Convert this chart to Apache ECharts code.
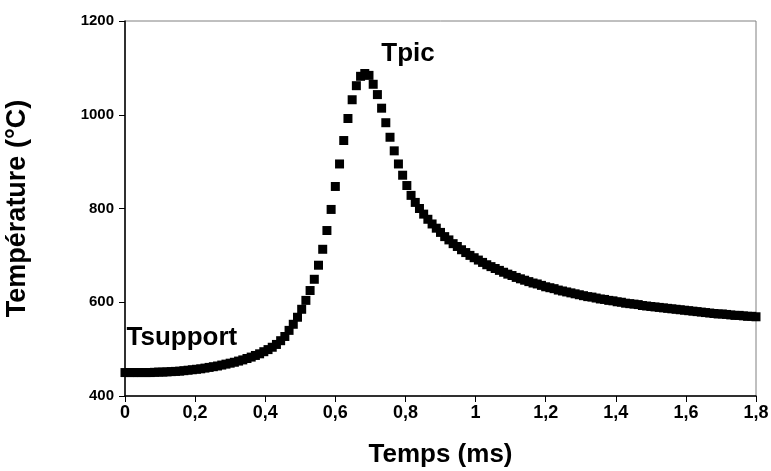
<!DOCTYPE html>
<html>
<head>
<meta charset="utf-8">
<script src="https://cdn.jsdelivr.net/npm/echarts@6/dist/echarts.min.js"></script>
<style>
html,body{margin:0;padding:0;background:#fff;}
#chart{width:771px;height:471px;}
</style>
</head>
<body>
<div id="chart"></div>
<script>
const times = [0,0.012,0.024,0.036,0.048,0.06,0.072,0.084,0.096,0.108,
0.12,0.132,0.144,0.156,0.168,0.18,0.192,0.204,0.216,0.228,
0.24,0.252,0.264,0.276,0.288,0.3,0.312,0.324,0.336,0.348,
0.36,0.372,0.384,0.396,0.408,0.42,0.432,0.444,0.456,0.468,
0.48,0.492,0.504,0.516,0.528,0.54,0.552,0.564,0.576,0.588,
0.6,0.612,0.624,0.636,0.648,0.66,0.672,0.684,0.696,0.708,
0.72,0.732,0.744,0.756,0.768,0.78,0.792,0.804,0.816,0.828,
0.84,0.852,0.864,0.876,0.888,0.9,0.912,0.924,0.936,0.948,
0.96,0.972,0.984,0.996,1.008,1.02,1.032,1.044,1.056,1.068,
1.08,1.092,1.104,1.116,1.128,1.14,1.152,1.164,1.176,1.188,
1.2,1.212,1.224,1.236,1.248,1.26,1.272,1.284,1.296,1.308,
1.32,1.332,1.344,1.356,1.368,1.38,1.392,1.404,1.416,1.428,
1.44,1.452,1.464,1.476,1.488,1.5,1.512,1.524,1.536,1.548,
1.56,1.572,1.584,1.596,1.608,1.62,1.632,1.644,1.656,1.668,
1.68,1.692,1.704,1.716,1.728,1.74,1.752,1.764,1.776,1.788,
1.8];
const temperatures = [450,450,450,450,450,450,450,450.5,451,451,
451.5,452,452.5,453,454,455,456,457,458,459.5,
461,462.5,464,466,468,470,472,474.5,477,480,
483,486.5,490,494.5,499,504,510,518,527,540,
553,568,585,604,625,649,679,713,753,798,
847,895,945,992,1032,1062,1082,1088,1084,1065,
1043,1014,983,952,923,895,871,849,828,813,
800,788,777,767,758,749,740,733,725,719,
712,706,700,695,690,685,680,676,672,668,
664,660,657,653,650,647,644,641,639,636,
633,631,629,626,624,622,620,618,616,614,
612,611,609,607,606,604,603,601,600,598,
597,596,595,593,592,591,590,589,588,587,
586,585,584,583,582,581,580,579,578,577,
576,575,575,574,573,572,572,571,570,570,569];
const xTitle = 'Temps (ms)';
const yTitle = 'Température (°C)';
const annotations = [
  {text: 'Tsupport', at: [0, 450]},
  {text: 'Tpic', at: [0.684, 1088]}
];

const FONT = 'Arial, "Liberation Sans", sans-serif';
const chart = echarts.init(document.getElementById('chart'), null, {renderer: 'canvas'});
const points = times.map((t, i) => [t, temperatures[i]]);
const fmtX = v => String(Math.round(v * 10) / 10).replace('.', ',');
const fmtY = v => String(Math.round(v));

chart.setOption({
  animation: false,
  backgroundColor: '#ffffff',
  grid: {left: 125, right: 15, top: 21, bottom: 75, containLabel: false, outerBoundsMode: 'none',
         show: true, borderColor: '#808080', borderWidth: 1, backgroundColor: 'transparent'},
  xAxis: {
    type: 'value', min: 0, max: 1.8, interval: 0.2,
    name: xTitle, nameLocation: 'middle', nameGap: 46,
    nameTextStyle: {fontFamily: FONT, fontWeight: 'bold', fontSize: 26, color: '#000'},
    axisLine: {show: true, onZero: false, lineStyle: {color: '#000', width: 1.5}},
    axisTick: {show: true, inside: false, length: 6, lineStyle: {color: '#000', width: 1}},
    axisLabel: {formatter: fmtX, fontFamily: FONT, fontWeight: 'bold', fontSize: 18, color: '#000', margin: 8, hideOverlap: false},
    splitLine: {show: false}
  },
  yAxis: {
    type: 'value', min: 400, max: 1200, interval: 200,
    name: yTitle, nameLocation: 'middle', nameGap: 94, nameRotate: 90,
    nameTextStyle: {fontFamily: FONT, fontWeight: 'bold', fontSize: 27, color: '#000'},
    axisLine: {show: true, onZero: false, lineStyle: {color: '#000', width: 1.5}},
    axisTick: {show: true, inside: false, length: 6, lineStyle: {color: '#000', width: 1}},
    axisLabel: {formatter: fmtY, fontFamily: FONT, fontWeight: 'bold', fontSize: 15, color: '#000', margin: 11},
    splitLine: {show: false}
  },
  series: [{
    type: 'scatter',
    data: points,
    symbol: 'rect',
    symbolSize: 9,
    itemStyle: {color: '#000', opacity: 1},
    emphasis: {disabled: true},
    markPoint: {
      symbol: 'rect', symbolSize: 1,
      itemStyle: {color: 'transparent'},
      silent: true,
      data: [
        {coord: annotations[0].at, value: annotations[0].text,
         label: {show: true, formatter: annotations[0].text, position: [2, -21], align: 'left', verticalAlign: 'bottom',
                 fontFamily: FONT, fontWeight: 'bold', fontSize: 26, color: '#000'}},
        {coord: annotations[1].at, value: annotations[1].text,
         label: {show: true, formatter: annotations[1].text, position: [17, -6], align: 'left', verticalAlign: 'bottom',
                 fontFamily: FONT, fontWeight: 'bold', fontSize: 26, color: '#000'}}
      ]
    }
  }]
});
</script>
</body>
</html>
